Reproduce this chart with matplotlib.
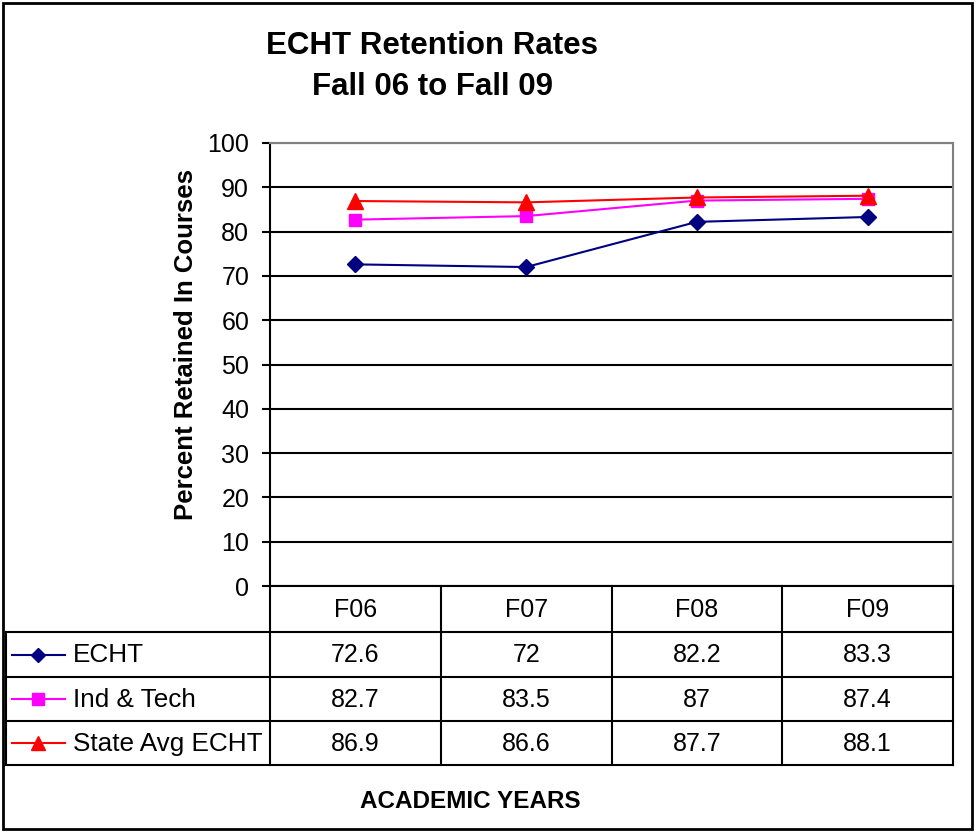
import matplotlib
matplotlib.use("Agg")
import matplotlib.pyplot as plt
from matplotlib.lines import Line2D
from matplotlib.patches import Rectangle

plt.rcParams['font.family'] = ['Liberation Sans', 'DejaVu Sans']

# data
years = ["F06", "F07", "F08", "F09"]
series_names = ["ECHT", "Ind & Tech", "State Avg ECHT"]
echt = [72.6, 72, 82.2, 83.3]
ind_tech = [82.7, 83.5, 87, 87.4]
state_avg = [86.9, 86.6, 87.7, 88.1]
series_values = [echt, ind_tech, state_avg]
colors = ["#000080", "#FF00FF", "#FF0000"]
markers = ["D", "s", "^"]
marker_sizes = [8, 9, 11]

W, H = 976, 832
fig = plt.figure(figsize=(W / 100, H / 100), dpi=100)

def fx(px):
    return px / W

def fy(py):
    return 1 - py / H

# plot area
left, right, top, bottom = 270, 953, 143, 586
ax = fig.add_axes([fx(left), fy(bottom), fx(right) - fx(left), fy(top) - fy(bottom)])
xs = list(range(len(years)))
for vals, c, m, ms in zip(series_values, colors, markers, marker_sizes):
    ax.plot(xs, vals, color=c, marker=m, markersize=ms, linewidth=1.5,
            markeredgecolor=c, zorder=3)

ax.set_xlim(-0.5, len(years) - 0.5)
ax.set_ylim(0, 100)
ax.set_yticks(range(0, 101, 10))
ax.yaxis.grid(True, color="black", linewidth=1.5)
ax.set_axisbelow(True)
ax.set_xticks([])
ax.tick_params(axis="y", labelsize=18, length=6, width=1.5, pad=9)
for s in ["top", "right"]:
    ax.spines[s].set_color("#808080")
    ax.spines[s].set_linewidth(1.5)
ax.spines["left"].set_linewidth(1.5)
ax.spines["bottom"].set_linewidth(1.5)
fig.text(fx(186), fy(345), "Percent Retained In Courses", rotation=90,
         ha="center", va="center", fontsize=18.5, fontweight="bold")

# title
fig.text(fx(432), fy(46), "ECHT Retention Rates", ha="center", va="center",
         fontsize=22.5, fontweight="bold")
fig.text(fx(432), fy(87), "Fall 06 to Fall 09", ha="center", va="center",
         fontsize=22.5, fontweight="bold")

# data table below the plot
col_edges = [left + i * (right - left) / len(years) for i in range(len(years) + 1)]
row_edges = [586, 632, 677, 721, 765]
table_left = 6
lw = 1.5

def hline(y, x0, x1):
    fig.add_artist(Line2D([fx(x0), fx(x1)], [fy(y), fy(y)], color="black", linewidth=lw))

def vline(x, y0, y1):
    fig.add_artist(Line2D([fx(x), fx(x)], [fy(y0), fy(y1)], color="black", linewidth=lw))

for y in row_edges[1:]:
    hline(y, table_left, right)
for x in col_edges:
    vline(x, row_edges[0], row_edges[-1])
vline(table_left, row_edges[1], row_edges[-1])

for i, yr in enumerate(years):
    cx = (col_edges[i] + col_edges[i + 1]) / 2
    cy = (row_edges[0] + row_edges[1]) / 2 + 1
    fig.text(fx(cx), fy(cy), yr, ha="center", va="center", fontsize=18)

for r, (name, vals, c, m, ms) in enumerate(zip(series_names, series_values, colors, markers, marker_sizes)):
    cy = (row_edges[r + 1] + row_edges[r + 2]) / 2
    fig.add_artist(Line2D([fx(12), fx(65)], [fy(cy), fy(cy)], color=c, linewidth=1.5))
    fig.add_artist(Line2D([fx(38)], [fy(cy)], color=c, marker=m, markersize=ms - 1,
                          markeredgecolor=c, linestyle="none"))
    fig.text(fx(73), fy(cy + 1), name, ha="left", va="center", fontsize=18.8)
    for i, v in enumerate(vals):
        cx = (col_edges[i] + col_edges[i + 1]) / 2
        fig.text(fx(cx), fy(cy + 1), f"{v:g}", ha="center", va="center", fontsize=18)

fig.text(fx(470), fy(802), "ACADEMIC YEARS", ha="center", va="center",
         fontsize=17.5, fontweight="bold")

# outer border
fig.add_artist(Rectangle((fx(3), fy(829)), fx(969), 826 / H, transform=fig.transFigure,
                         fill=False, edgecolor="black", linewidth=2))

fig.savefig("out.png", dpi=100)
